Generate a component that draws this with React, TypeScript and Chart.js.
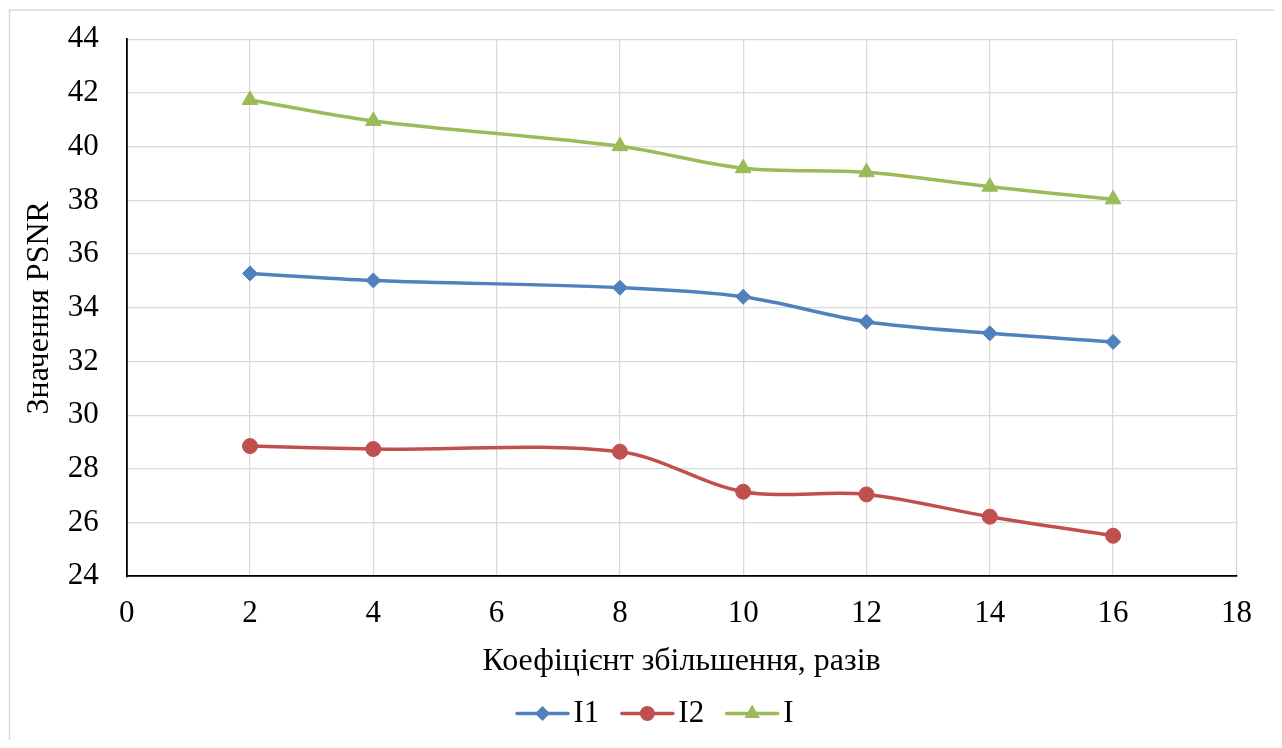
import React, { useEffect, useRef } from "react";
import { Chart, registerables } from "chart.js";

Chart.register(...registerables);

// Scale factors (x) and PSNR values for each method
const xValues = [2, 4, 8, 10, 12, 14, 16];
const i1Values = [35.28, 35.02, 34.75, 34.41, 33.48, 33.05, 32.73];
const i2Values = [28.85, 28.74, 28.64, 27.15, 27.05, 26.22, 25.51];
const iValues = [41.74, 40.96, 40.02, 39.2, 39.05, 38.51, 38.04];

const seriesNames = ["I1", "I2", "I"];
const seriesColors = ["#4f81bd", "#c0504d", "#9bbb59"];
const seriesMarkers = ["diamond", "circle", "triangle"];

const xAxisTitle = "Коефіцієнт збільшення, разів";
const yAxisTitle = "Значення PSNR";

const xMin = 0;
const xMax = 18;
const yMin = 24;
const yMax = 44;
const tickStep = 2;

const FONT_FAMILY = "'Liberation Serif', 'Times New Roman', serif";
const TICK_SIZE = 31;
const TITLE_SIZE = 32;
const LEGEND_SIZE = 31;
const GRID_COLOR = "#d9d9d9";

const W = 1266;
const H = 732;

function drawMarker(ctx: CanvasRenderingContext2D, kind: string, x: number, y: number, color: string) {
  ctx.save();
  ctx.fillStyle = color;
  ctx.beginPath();
  if (kind === "diamond") {
    const r = 7.5;
    ctx.moveTo(x, y - r);
    ctx.lineTo(x + r, y);
    ctx.lineTo(x, y + r);
    ctx.lineTo(x - r, y);
    ctx.closePath();
  } else if (kind === "circle") {
    ctx.arc(x, y, 7.5, 0, Math.PI * 2);
  } else {
    const r = 9;
    const s = r * Math.sin(Math.PI / 3);
    ctx.moveTo(x, y - r);
    ctx.lineTo(x + s, y + r / 2);
    ctx.lineTo(x - s, y + r / 2);
    ctx.closePath();
  }
  ctx.fill();
  ctx.restore();
}

const framePlugin = {
  id: "frame",
  beforeDraw(chart: any) {
    const { ctx } = chart;
    ctx.save();
    ctx.fillStyle = "#ffffff";
    ctx.fillRect(0, 0, chart.width, chart.height);
    ctx.strokeStyle = GRID_COLOR;
    ctx.lineWidth = 1.5;
    ctx.beginPath();
    ctx.moveTo(1.5, chart.height);
    ctx.lineTo(1.5, 2);
    ctx.lineTo(chart.width, 2);
    ctx.stroke();
    ctx.restore();
  },
};

const legendPlugin = {
  id: "bottomLegend",
  afterDraw(chart: any) {
    const { ctx } = chart;
    const lineLen = 54;
    const textGap = 4;
    const itemGap = 21;
    const cy = 705.5;
    ctx.save();
    ctx.font = `${LEGEND_SIZE}px ${FONT_FAMILY}`;
    ctx.textBaseline = "middle";
    ctx.textAlign = "left";
    const widths = seriesNames.map((n) => lineLen + textGap + ctx.measureText(n).width);
    const total = widths.reduce((a, b) => a + b, 0) + itemGap * (seriesNames.length - 1);
    let x = 646.5 - total / 2;
    seriesNames.forEach((name, i) => {
      ctx.strokeStyle = seriesColors[i];
      ctx.lineWidth = 3.5;
      ctx.lineCap = "round";
      ctx.beginPath();
      ctx.moveTo(x + 1.5, cy);
      ctx.lineTo(x + lineLen - 1.5, cy);
      ctx.stroke();
      drawMarker(ctx, seriesMarkers[i], x + lineLen / 2, cy, seriesColors[i]);
      ctx.fillStyle = "#000000";
      ctx.fillText(name, x + lineLen + textGap, cy + 0.5);
      x += widths[i] + itemGap;
    });
    ctx.restore();
  },
};

const chartPointStyle: Record<string, string> = {
  diamond: "rectRot",
  circle: "circle",
  triangle: "triangle",
};
const chartPointRadius: Record<string, number> = {
  diamond: 7.5,
  circle: 7.5,
  triangle: 9,
};

export default function App() {
  const canvasRef = useRef<HTMLCanvasElement | null>(null);

  useEffect(() => {
    if (!canvasRef.current) return;
    const seriesValues = [i1Values, i2Values, iValues];
    const chart = new Chart(canvasRef.current, {
      type: "line",
      data: {
        datasets: seriesNames.map((name, i) => ({
          label: name,
          data: xValues.map((x, k) => ({ x, y: seriesValues[i][k] })),
          borderColor: seriesColors[i],
          backgroundColor: seriesColors[i],
          pointBackgroundColor: seriesColors[i],
          pointBorderColor: seriesColors[i],
          pointBorderWidth: 1,
          pointStyle: chartPointStyle[seriesMarkers[i]],
          pointRadius: chartPointRadius[seriesMarkers[i]],
          borderWidth: 3.5,
          tension: 0.33,
          fill: false,
        })),
      },
      options: {
        responsive: false,
        animation: false,
        layout: {
          padding: { left: 0, top: 31.3, right: 37.6, bottom: 58.9 },
        },
        plugins: {
          legend: { display: false },
          tooltip: { enabled: false },
        },
        scales: {
          x: {
            type: "linear",
            min: xMin,
            max: xMax,
            afterFit: (scale: any) => {
              scale.height = 104.8;
              scale.paddingLeft = 0;
              scale.paddingRight = 0;
            },
            ticks: {
              stepSize: tickStep,
              color: "#000000",
              padding: 19,
              font: { family: FONT_FAMILY, size: TICK_SIZE },
            },
            grid: { color: GRID_COLOR, lineWidth: 1.3, drawTicks: false },
            border: { color: "#000000", width: 1.8 },
            title: {
              display: true,
              text: xAxisTitle,
              color: "#000000",
              padding: { top: 0, bottom: 0 },
              font: { family: FONT_FAMILY, size: TITLE_SIZE },
            },
          },
          y: {
            type: "linear",
            min: yMin,
            max: yMax,
            afterFit: (scale: any) => {
              scale.width = 118.7;
              scale.paddingTop = 0;
              scale.paddingBottom = 0;
            },
            ticks: {
              stepSize: tickStep,
              color: "#000000",
              padding: 28,
              font: { family: FONT_FAMILY, size: TICK_SIZE },
            },
            grid: { color: GRID_COLOR, lineWidth: 1.3, drawTicks: false },
            border: { color: "#000000", width: 1.8 },
            title: {
              display: true,
              text: yAxisTitle,
              color: "#000000",
              padding: { top: 12.8, bottom: 0 },
              font: { family: FONT_FAMILY, size: TITLE_SIZE },
            },
          },
        },
      },
      plugins: [framePlugin, legendPlugin],
    });
    return () => chart.destroy();
  }, []);

  return (
    <div style={{ width: W, height: H }}>
      <canvas ref={canvasRef} width={W} height={H} style={{ display: "block" }} />
    </div>
  );
}
